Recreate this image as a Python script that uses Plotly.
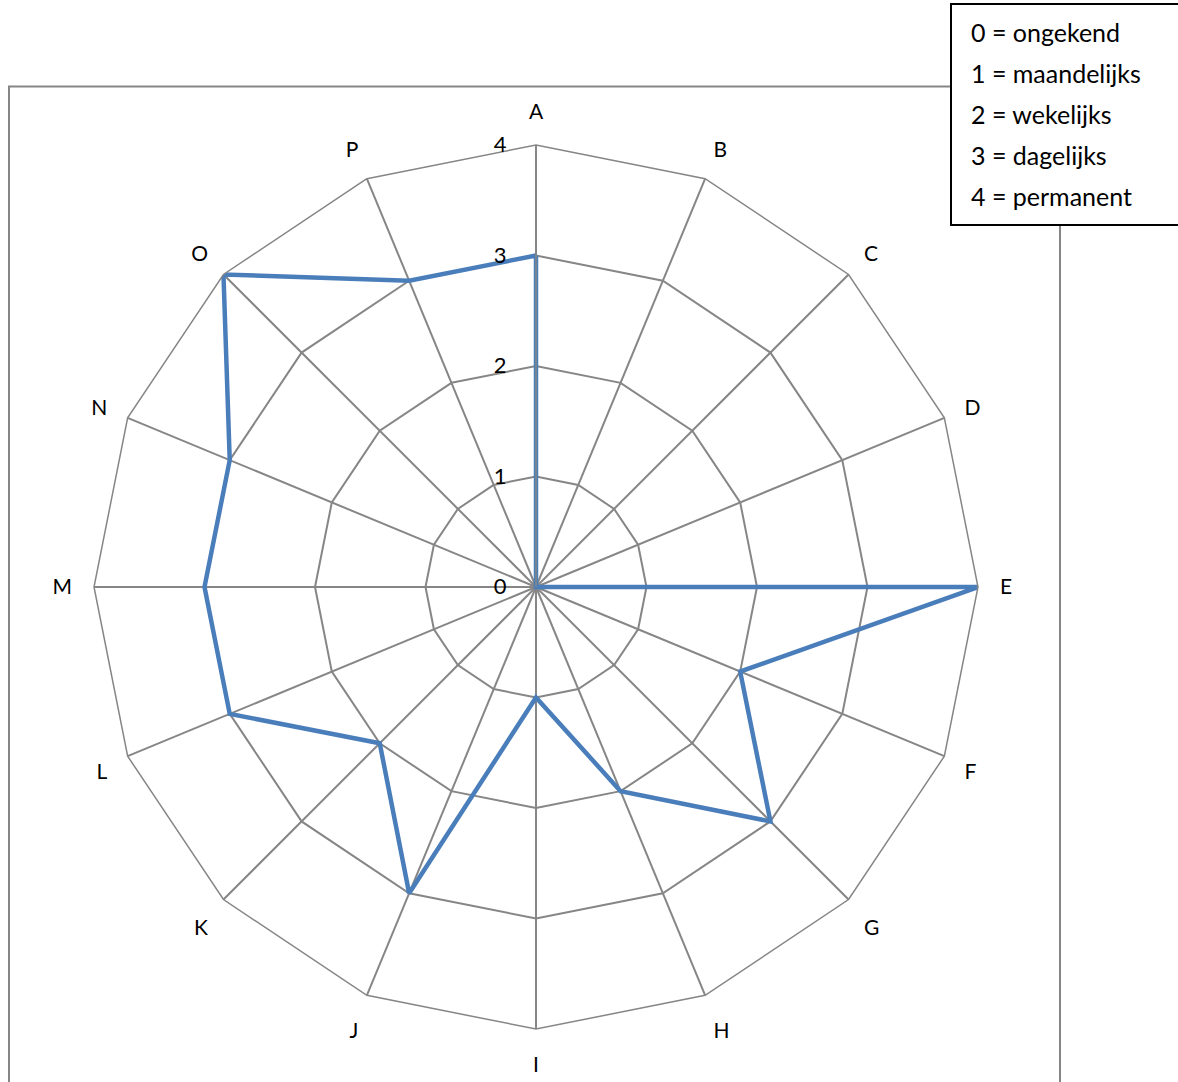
import plotly.graph_objects as go

# Frequency score per category (0 = unknown ... 4 = permanent)
categories = ["A", "B", "C", "D", "E", "F", "G", "H",
              "I", "J", "K", "L", "M", "N", "O", "P"]
values = [3, 0, 0, 0, 4, 2, 3, 2, 1, 3, 2, 3, 3, 3, 4, 3]
radial_ticks = [0, 1, 2, 3, 4]
legend_lines = ["0 = ongekend", "1 = maandelijks", "2 = wekelijks",
                "3 = dagelijks", "4 = permanent"]

W, H = 1178, 1082
FONT = "Lato"
GRID = "#868686"

fig = go.Figure()
fig.add_trace(go.Scatterpolar(
    r=values + values[:1],
    theta=categories + categories[:1],
    mode="lines",
    line=dict(color="#4a7ebb", width=4.5),
    showlegend=False,
    hoverinfo="skip",
))

cx, cy, rad = 536, 587, 442
fig.update_layout(
    width=W, height=H,
    margin=dict(l=0, r=0, t=0, b=0),
    paper_bgcolor="white",
    font=dict(family=FONT, size=21, color="black"),
    polar=dict(
        domain=dict(x=[(cx - rad) / W, (cx + rad) / W],
                    y=[1 - (cy + rad) / H, 1 - (cy - rad) / H]),
        bgcolor="white",
        gridshape="linear",
        angularaxis=dict(
            direction="clockwise", rotation=90,
            showline=True, linecolor=GRID, linewidth=1.5,
            gridcolor=GRID, gridwidth=1.5,
            ticks="outside", ticklen=17, tickcolor="rgba(0,0,0,0)",
            tickfont=dict(family=FONT, size=21, color="black"),
        ),
        radialaxis=dict(
            range=[0, 4], tickvals=radial_ticks,
            angle=90, side="counterclockwise", tickangle=90,
            showline=True, linecolor=GRID, linewidth=1.5,
            gridcolor=GRID, gridwidth=1.5,
            ticks="outside", ticklen=21, tickcolor="rgba(0,0,0,0)",
            tickfont=dict(family=FONT, size=22, color="black"),
        ),
    ),
)

# Chart-area frame
fig.add_shape(type="rect", xref="paper", yref="paper",
              x0=9 / W, x1=1060 / W, y0=-0.02, y1=1 - 86.5 / H,
              line=dict(color=GRID, width=2), fillcolor="rgba(0,0,0,0)",
              layer="below")

# Scale key box
fig.add_shape(type="rect", xref="paper", yref="paper",
              x0=951 / W, x1=1.01, y0=1 - 225 / H, y1=1 - 4 / H,
              line=dict(color="black", width=2), fillcolor="white")
for i, txt in enumerate(legend_lines):
    fig.add_annotation(xref="paper", yref="paper",
                       x=969 / W, y=1 - (32 + 41 * i) / H,
                       xanchor="left", yanchor="middle", showarrow=False,
                       text=txt, font=dict(family=FONT, size=25, color="black"))

fig.write_html("out.html")
